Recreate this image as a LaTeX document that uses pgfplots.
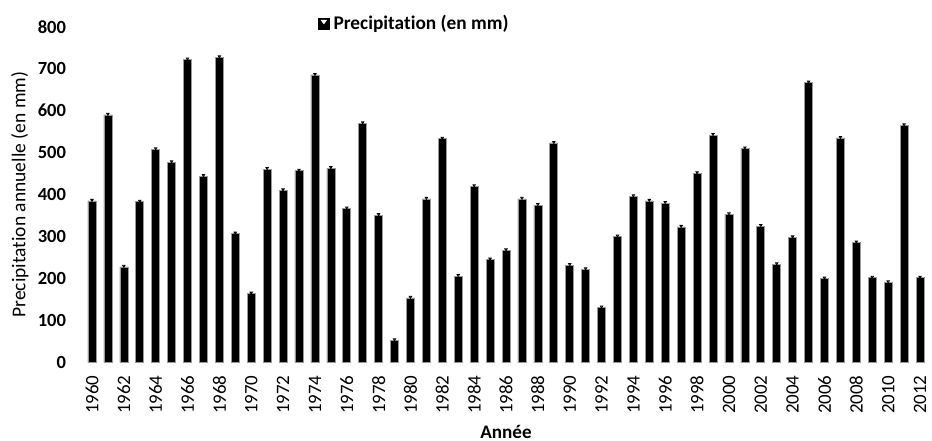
\documentclass[border=0pt]{standalone}
\usepackage{fontspec}
\setmainfont{Carlito}[Ligatures=NoCommon]
\usepackage{pgfplots}
\usepackage{pgfplotstable}
\pgfplotsset{compat=1.18}
\pgfplotstableread{
year val
1960 385
1961 590
1962 228
1963 383
1964 508
1965 477
1966 722
1967 444
1968 727
1969 307
1970 164
1971 461
1972 410
1973 457
1974 685
1975 463
1976 367
1977 570
1978 351
1979 53
1980 154
1981 390
1982 533
1983 206
1984 420
1985 245
1986 267
1987 390
1988 375
1989 523
1990 232
1991 222
1992 131
1993 300
1994 396
1995 385
1996 380
1997 323
1998 451
1999 542
2000 353
2001 510
2002 325
2003 234
2004 298
2005 667
2006 200
2007 535
2008 286
2009 202
2010 191
2011 565
2012 202
}\datatable
\begin{document}
\begin{tikzpicture}
\begin{axis}[
  name=ax, at={(0,0)}, anchor=south west,
  scale only axis, width=422bp, height=167.9bp,
  xmin=1959.5, xmax=2012.5, ymin=0, ymax=800,
  xtick={1960,1962,...,2012}, ytick={0,100,...,800},
  /pgf/number format/1000 sep={},
  /pgf/number format/assume math mode=true,
  axis line style={draw=none}, tick style={draw=none},
  yticklabel style={font=\fontsize{9.3}{11}\selectfont\bfseries, anchor=east, xshift=-5.5bp},
  xticklabel style={font=\fontsize{9.5}{11}\selectfont, rotate=90, anchor=east, xshift=-3bp},
  xlabel={Année}, ylabel={Precipitation annuelle (en mm)},
  every axis x label/.style={at={(axis description cs:0.5,-0.207)}, anchor=center, font=\fontsize{9.6}{11}\selectfont\bfseries},
  every axis y label/.style={at={(axis description cs:-0.076,0.5)}, rotate=90, anchor=center, font=\fontsize{9.8}{11}\selectfont},
  legend style={at={(rel axis cs:0.277,1.008)}, anchor=west, draw=none, fill=none, inner sep=0pt,
    font=\fontsize{9.7}{11}\selectfont\bfseries, /tikz/every odd column/.style={column sep=0pt}},
  legend cell align=left,
]
\addplot[ybar, bar width=4bp, bar shift=0pt, fill=black, draw=black!40, line width=0.3bp,
  legend image code/.code={\fill[black] (0bp,-2.7bp) rectangle (5.4bp,2.7bp);
    \fill[white] (1.4bp,1.9bp)--(4.0bp,1.9bp)--(2.7bp,0.1bp)--cycle;}]
  table[x=year,y=val]{\datatable};
\addlegendentry{Precipitation (en mm)}
\addplot[only marks, mark=triangle*, forget plot,
  mark options={fill=white, draw=none, rotate=180, scale=0.35, yshift=-1.2bp}]
  table[x=year,y=val]{\datatable};
\end{axis}
\pgfresetboundingbox
\useasboundingbox (-42bp,-39.25bp) rectangle (424bp,181.25bp);
\end{tikzpicture}
\end{document}
